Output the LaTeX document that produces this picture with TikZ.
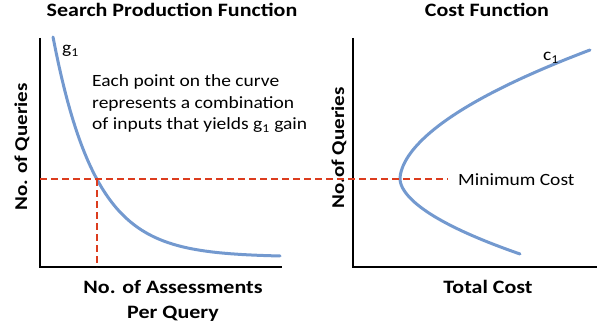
\documentclass[tikz,border=0pt]{standalone}
\usepackage{fontspec}
\setmainfont{Carlito}
\definecolor{curveblue}{HTML}{7399CF}
\definecolor{dashred}{HTML}{DC3C1E}
\begin{document}
\begin{tikzpicture}[x=1pt,y=-1pt,
  axisline/.style={line width=2.4pt,black},
  curveline/.style={line width=3pt,curveblue,line cap=round},
  guide/.style={line width=2pt,dashred,dash pattern=on 7pt off 4pt},
  boldtext/.style={font=\fontsize{22}{26}\selectfont\bfseries,inner sep=0pt,yscale=0.86},
  sidetext/.style={font=\fontsize{21}{26}\selectfont\bfseries,inner sep=0pt,rotate=90,yscale=0.86},
  bodytext/.style={font=\fontsize{19.5}{24}\selectfont,inner sep=0pt,yscale=0.88}]
\useasboundingbox (0,0) rectangle (612,331);
% left axes
\coordinate (LT) at (40,38);
\coordinate (LO) at (40,267);
\coordinate (LR) at (282,267);
\draw[axisline] (LT) -- (LO) -- (LR);
% right axes
\coordinate (RT) at (353,38);
\coordinate (RO) at (353,267);
\coordinate (RR) at (597,267);
\draw[axisline] (RT) -- (RO) -- (RR);
% titles
\node[boldtext,anchor=base] (t1) at (172,17) {Search Production Function};
\node[boldtext,anchor=base] (t2) at (487,17) {Cost Function};
% axis labels
\node[sidetext] (ly1) at (22,147) {No. of Queries};
\node[sidetext] (ly2) at (339,148) {No.of Queries};
\node[boldtext,anchor=base] (lx1) at (173,293) {No. of Assessments};
\node[boldtext,anchor=base] (lx1b) at (173,318) {Per Query};
\node[boldtext,anchor=base] (lx2) at (488,293) {Total Cost};
% left curve
\draw[curveline] plot[domain=53:280,samples=80] (\x,{257-220*exp(-0.0237*(\x-53))});
\node[bodytext,anchor=base west] (g1) at (62,54) {g\textsubscript{1}};
\node[bodytext,anchor=base west] (note1) at (92,86.5) {Each point on the curve};
\node[bodytext,anchor=base west] (note2) at (92,108.5) {represents a combination};
\node[bodytext,anchor=base west] (note3) at (92,130) {of inputs that yields g\textsubscript{1} gain};
% right curve
\draw[curveline] plot[domain=75:0.01,samples=40] ({400+0.0506*pow(\x,1.8)},{179+\x})
  -- plot[domain=0.01:129,samples=60] ({400+0.03018*pow(\x,1.8)},{179-\x});
\node[bodytext,anchor=base west] (c1) at (543,61) {c\textsubscript{1}};
% guides
\coordinate (P) at (97,179);
\coordinate (Pdown) at (97,267);
\coordinate (Hend) at (448,179);
\coordinate (Hstart) at (40,179);
\node[bodytext,anchor=base west] (minc) at (458,185) {Minimum Cost};
\draw[guide] (Hstart) -- (Hend);
\draw[guide] (P) -- (Pdown);
\end{tikzpicture}
\end{document}
